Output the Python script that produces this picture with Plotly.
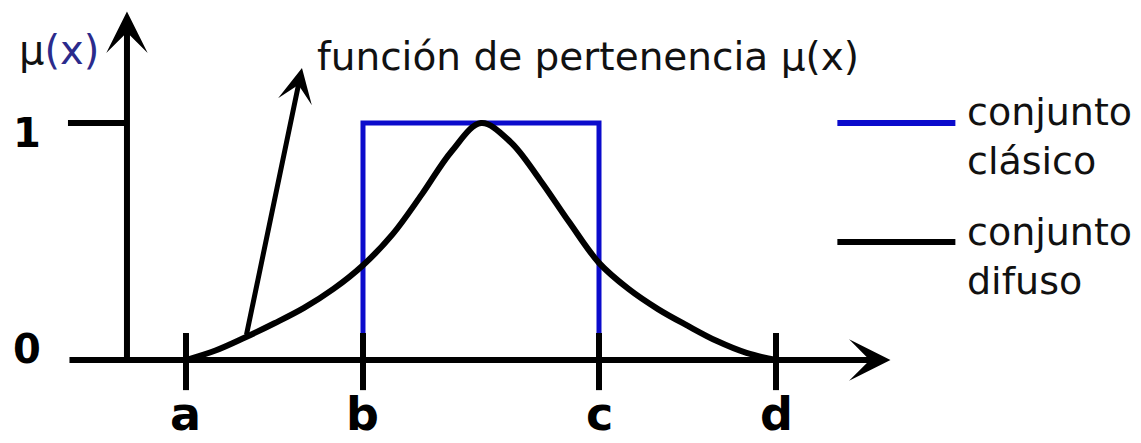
import plotly.graph_objects as go

# Membership degree of the fuzzy set sampled along the universe of discourse
curve_x = [1.0, 1.25, 1.5, 1.75, 2.0, 2.25, 2.5, 2.75, 3.0, 3.25, 3.5,
           3.75, 4.0, 4.25, 4.5, 4.75, 5.0, 5.25, 5.5, 5.75, 6.0]
curve_mu = [0.0, 0.04, 0.095, 0.155, 0.22, 0.30, 0.40, 0.53, 0.70, 0.88, 1.0,
            0.92, 0.76, 0.58, 0.41, 0.30, 0.215, 0.145, 0.08, 0.03, 0.0]

# Crisp (classical) set: membership 1 between b and c
crisp_x = [2.5, 2.5, 4.5, 4.5]
crisp_mu = [0.0, 1.0, 1.0, 0.0]

# Tick marks on the horizontal axis
tick_pos = [1.0, 2.5, 4.5, 6.0]
tick_labels = ["a", "b", "c", "d"]

# Levels labelled on the vertical axis
level_vals = [0, 1]
level_labels = ["0", "1"]

legend_names = ["conjunto<br>clásico", "conjunto<br>difuso"]
legend_colors = ["#0b0bcc", "#000000"]

BLUE = "#0b0bcc"
FONT = "DejaVu Sans"

fig = go.Figure()

fig.add_trace(go.Scatter(
    x=crisp_x, y=crisp_mu, mode="lines",
    line=dict(color=BLUE, width=5), hoverinfo="skip", showlegend=False,
))
fig.add_trace(go.Scatter(
    x=curve_x, y=curve_mu, mode="lines", line_shape="spline",
    line=dict(color="black", width=6, smoothing=1.0),
    hoverinfo="skip", showlegend=False,
))

shapes = []
# ticks a..d
for xv in tick_pos:
    shapes.append(dict(type="line", xref="x", yref="y", x0=xv, x1=xv,
                       y0=-0.127, y1=0.114, layer="above",
                       line=dict(color="black", width=6)))
# tick at membership 1 on the vertical axis
shapes.append(dict(type="line", xref="x", yref="y", x0=0.0, x1=0.5,
                   y0=level_vals[1], y1=level_vals[1], layer="above",
                   line=dict(color="black", width=6)))
# legend keys
for col, yv in zip(legend_colors, [1.0, 0.498]):
    shapes.append(dict(type="line", xref="x", yref="y", x0=6.52, x1=7.52,
                       y0=yv, y1=yv, layer="above",
                       line=dict(color=col, width=6)))

arrow_common = dict(xref="x", yref="y", axref="x", ayref="y", text="",
                    showarrow=True, arrowhead=3, arrowsize=1.15,
                    arrowcolor="black", standoff=0, startstandoff=0)

annotations = [
    # horizontal axis
    dict(x=6.97, y=0, ax=0.0, ay=0, arrowwidth=6, **arrow_common),
    # vertical axis
    dict(x=0.5, y=1.47, ax=0.5, ay=0, arrowwidth=6, **arrow_common),
    # pointer to the membership function
    dict(x=1.983, y=1.232, ax=1.51, ay=0.10, arrowwidth=5, **arrow_common),
]

for xv, lab in zip(tick_pos, tick_labels):
    annotations.append(dict(x=xv, y=-0.228, xref="x", yref="y", text=lab,
                            showarrow=False, xanchor="center", yanchor="middle",
                            font=dict(family=FONT, size=46, color="black",
                                      weight="bold")))

for lab, ym in zip(level_labels, [0.046, 0.958]):
    annotations.append(dict(x=-0.35, y=ym, xref="x", yref="y", text=lab,
                            showarrow=False, xanchor="center", yanchor="middle",
                            font=dict(family=FONT, size=40, color="black",
                                      weight="bold")))

annotations.append(dict(
    x=-0.43, y=1.31, xref="x", yref="y", xanchor="left", yanchor="middle",
    text="μ<span style='color:#2b2b8c'>(x)</span>", showarrow=False,
    font=dict(family=FONT, size=40, color="#111111")))

annotations.append(dict(
    x=2.09, y=1.281, xref="x", yref="y", xanchor="left", yanchor="middle",
    text="función de pertenencia μ(x)", showarrow=False,
    font=dict(family=FONT, size=39, color="#111111")))

for name, ym in zip(legend_names, [0.945, 0.435]):
    annotations.append(dict(
        x=7.6, y=ym, xref="x", yref="y", xanchor="left", yanchor="middle",
        align="left", text=name, showarrow=False,
        font=dict(family=FONT, size=38, color="#111111")))

fig.update_layout(
    width=1141, height=443,
    margin=dict(l=0, r=0, t=0, b=0),
    paper_bgcolor="white", plot_bgcolor="white",
    xaxis=dict(range=[-0.576, 9.093], visible=False, fixedrange=True),
    yaxis=dict(range=[-0.350, 1.519], visible=False, fixedrange=True),
    shapes=shapes, annotations=annotations,
    showlegend=False,
)

fig.write_html("out.html")
